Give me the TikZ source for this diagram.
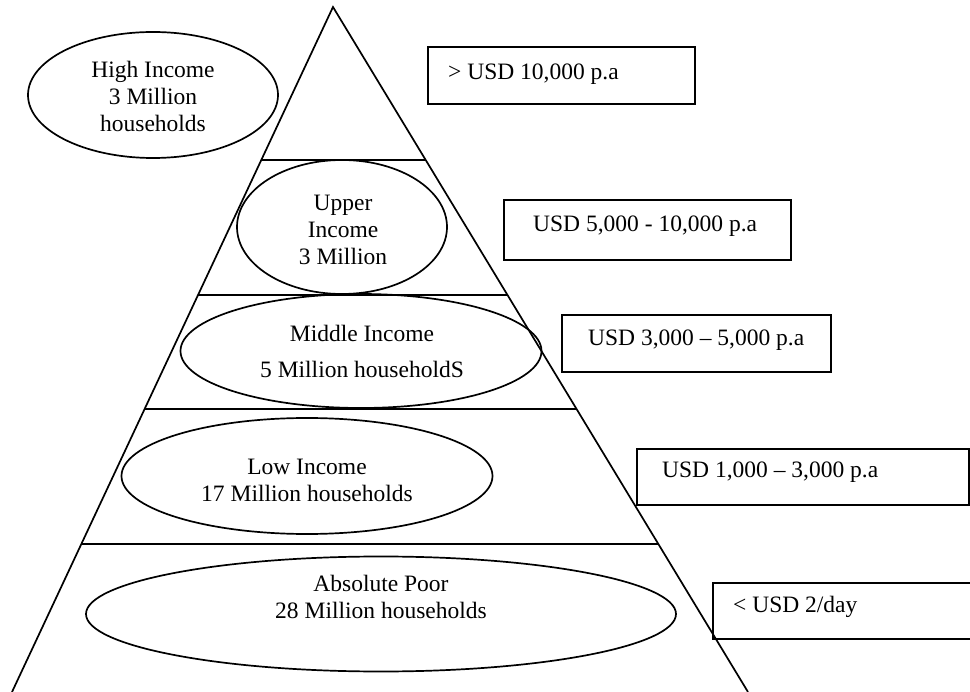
\documentclass[tikz,border=0pt]{standalone}
\usepackage{fontspec}
\setmainfont{Liberation Serif}
\usetikzlibrary{shapes.geometric,calc}
\begin{document}
\begin{tikzpicture}[x=1pt,y=1pt,
  every node/.style={font=\fontsize{23.5}{27}\selectfont},
  edge/.style={line width=1.7pt},
  divider/.style={line width=1.7pt},
  oval/.style={ellipse,draw,line width=1.7pt,inner sep=0pt},
  txt/.style={align=center,inner sep=0pt},
  pricebox/.style={draw,line width=1.7pt,anchor=north west,inner sep=0pt},
  pricetxt/.style={anchor=west,inner sep=0pt}
]
\clip (0,0) rectangle (970,-692);
\fill[white] (0,0) rectangle (970,-692);

% pyramid
\coordinate (apex) at (333,-7);
\coordinate (bl) at (12,-692);
\coordinate (br) at (748,-692);
\draw[edge] (bl) -- (apex) -- (br);

% dividers (fractions along the edges: (y-7)/685)
\coordinate (l1) at ($(apex)!0.2234!(bl)$);
\coordinate (r1) at ($(apex)!0.2234!(br)$);
\coordinate (l2) at ($(apex)!0.4204!(bl)$);
\coordinate (r2) at ($(apex)!0.4204!(br)$);
\coordinate (l3) at ($(apex)!0.5869!(bl)$);
\coordinate (r3) at ($(apex)!0.5869!(br)$);
\coordinate (l4) at ($(apex)!0.7839!(bl)$);
\coordinate (r4) at ($(apex)!0.7839!(br)$);
\draw[divider] (l1) -- (r1);
\draw[divider] (l2) -- (r2);
\draw[divider] (l3) -- (r3);
\draw[divider] (l4) -- (r4);

% ellipses
\node[oval,minimum width=250,minimum height=126] (e1) at (153,-95) {};
\node[txt] (t1) at (153,-96) {High Income\\3 Million\\households};

\node[oval,minimum width=210,minimum height=134] (e2) at (342,-227) {};
\node[txt] (t2) at (343,-230) {Upper\\Income\\3 Million};

\node[oval,minimum width=361,minimum height=114] (e3) at (361,-351) {};
\node[txt] (t3) at (362,-351) {Middle Income\\[9pt]5 Million householdS};

\node[oval,minimum width=371,minimum height=116] (e4) at (307,-476) {};
\node[txt] (t4) at (307,-480) {Low Income\\17 Million households};

\node[oval,minimum width=590,minimum height=115] (e5) at (381,-614) {};
\node[txt] (t5) at (381,-597) {Absolute Poor\\28 Million households};

% price boxes
\node[pricebox,minimum width=267,minimum height=57] (b1) at (427,-46) {};
\node[pricetxt] (p1) at (448,-74) {> USD 10,000 p.a};
\node[pricebox,minimum width=287,minimum height=60] (b2) at (503,-199) {};
\node[pricetxt] (p2) at (533,-226) {USD 5,000 - 10,000 p.a};
\node[pricebox,minimum width=269,minimum height=57] (b3) at (561,-314) {};
\node[pricetxt] (p3) at (588,-340) {USD 3,000 – 5,000 p.a};
\node[pricebox,minimum width=332,minimum height=56] (b4) at (636,-448) {};
\node[pricetxt] (p4) at (662,-472) {USD 1,000 – 3,000 p.a};
\node[pricebox,minimum width=280,minimum height=56] (b5) at (712,-582) {};
\node[pricetxt] (p5) at (733,-607) {< USD 2/day};
\end{tikzpicture}
\end{document}
